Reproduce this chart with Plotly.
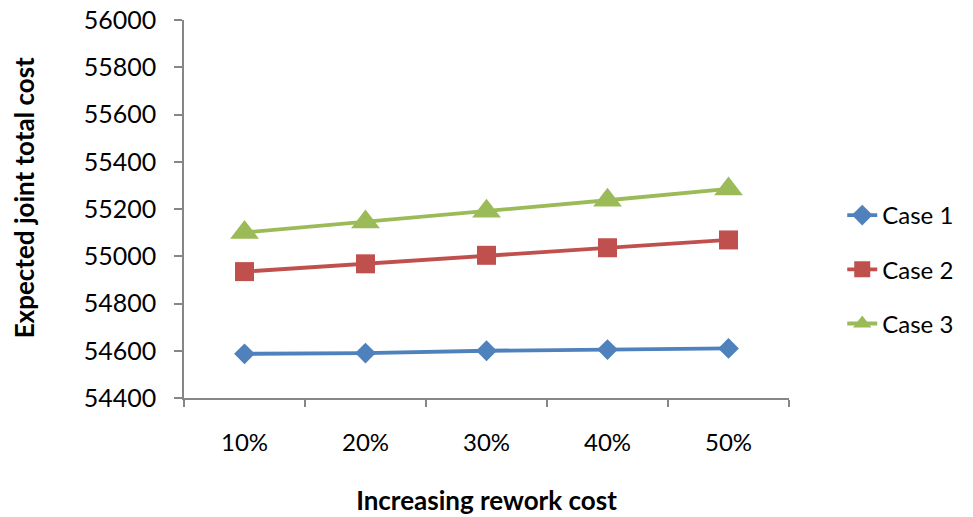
import plotly.graph_objects as go

# Rework cost scenarios and expected joint total cost per case
categories = ["10%", "20%", "30%", "40%", "50%"]
case1 = [54587, 54590, 54600, 54605, 54610]
case2 = [54935, 54968, 55004, 55036, 55069]
case3 = [55101, 55145, 55191, 55237, 55285]
y_ticks = [54400, 54600, 54800, 55000, 55200, 55400, 55600, 55800, 56000]

FONT = "Lato, 'Open Sans', sans-serif"
AXIS_GREY = "#868686"

series = [
    ("Case 1", case1, "#4F81BD", "diamond", 16),
    ("Case 2", case2, "#C0504D", "square", 19),
    ("Case 3", case3, "#9BBB59", "triangle-up", 25),
]

fig = go.Figure()
for name, vals, color, symbol, size in series:
    fig.add_trace(go.Scatter(
        x=categories, y=vals, name=name, legendgroup=name,
        mode="lines+markers",
        line=dict(color=color, width=3.8),
        marker=dict(symbol=symbol, size=size, color=color),
    ))

fig.update_layout(
    width=973, height=517,
    margin=dict(l=184, r=184, t=20, b=119),
    paper_bgcolor="white", plot_bgcolor="white",
    font=dict(family=FONT, size=24, color="#000000"),
    showlegend=True,
    legend=dict(
        x=1.088, y=0.34, xanchor="left", yanchor="middle",
        font=dict(family=FONT, size=24, color="#000000"),
        traceorder="grouped", tracegroupgap=20,
        bgcolor="rgba(0,0,0,0)",
    ),
    xaxis=dict(
        type="category", range=[-0.5, 4.5], automargin=False,
        showline=True, linecolor=AXIS_GREY, linewidth=1.5,
        ticks="outside", tickson="boundaries", ticklen=7, tickcolor=AXIS_GREY,
        tickwidth=1.5, ticklabelstandoff=22,
        showgrid=False, zeroline=False,
        tickfont=dict(family=FONT, size=24),
        title=dict(text="<b>Increasing rework cost</b>", standoff=37,
                   font=dict(family=FONT, size=26)),
    ),
    yaxis=dict(
        range=[54400, 56000], tickvals=y_ticks, automargin=False,
        ticktext=[str(v) for v in y_ticks],
        showline=True, linecolor=AXIS_GREY, linewidth=1.5,
        ticks="outside", ticklen=8, tickcolor=AXIS_GREY, tickwidth=1.5,
        ticklabelstandoff=13,
        showgrid=False, zeroline=False,
        tickfont=dict(family=FONT, size=25),
    ),
    annotations=[dict(
        text="<b>Expected joint total cost</b>", textangle=-90,
        xref="paper", yref="paper", x=-0.265, y=0.53,
        xanchor="center", yanchor="middle", showarrow=False,
        font=dict(family=FONT, size=26),
    )],
)

fig.write_html("out.html")
